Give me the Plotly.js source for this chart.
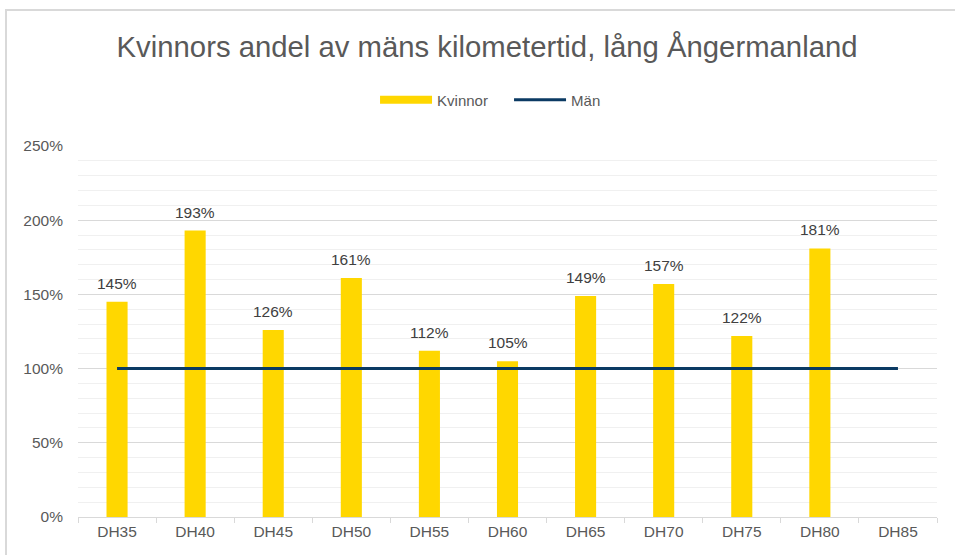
<!DOCTYPE html>
<html>
<head>
<meta charset="utf-8">
<script src="https://cdn.plot.ly/plotly-3.0.1.min.js"></script>
<style>
html,body{margin:0;padding:0;background:#fff;}
#wrap{position:relative;width:955px;height:555px;}
#chart{width:955px;height:555px;}
#frame{position:absolute;left:5px;top:9px;width:1000px;height:600px;border-left:2px solid #d9d9d9;border-top:2px solid #d9d9d9;pointer-events:none;}
</style>
</head>
<body>
<div id="wrap"><div id="chart"></div><div id="frame"></div></div>
<script>
const categories = ['DH35','DH40','DH45','DH50','DH55','DH60','DH65','DH70','DH75','DH80','DH85'];
const kvinnor = [1.45, 1.93, 1.26, 1.61, 1.12, 1.05, 1.49, 1.57, 1.22, 1.81, null];
const man = [1, 1, 1, 1, 1, 1, 1, 1, 1, 1, 1];
const kvinnorLabels = kvinnor.map(v => v == null ? '' : Math.round(v * 100) + '%');

const font = 'Liberation Sans, Arial, sans-serif';
const yellow = '#FFD700';
const navy = '#0b3a63';
const data = [
  {
    type: 'bar', name: 'Kvinnor', x: categories, y: kvinnor,
    marker: {color: yellow}, showlegend: false
  },
  {
    type: 'scatter', mode: 'lines', name: 'Kvinnor', x: categories, y: categories.map(() => null),
    line: {color: yellow, width: 8}, showlegend: true
  },
  {
    type: 'scatter', mode: 'lines', name: 'Män', x: categories, y: man,
    line: {color: navy, width: 3}
  }
];
const annotations = categories.map((c, i) => kvinnor[i] == null ? null : ({
  x: c, y: kvinnor[i], xref: 'x', yref: 'y', text: kvinnorLabels[i],
  showarrow: false, yanchor: 'bottom', yshift: 8,
  font: {family: font, size: 15.5, color: '#404040'}
})).filter(a => a);
const layout = {
  width: 955, height: 555,
  margin: {l: 78, r: 18, t: 146, b: 38},
  paper_bgcolor: '#ffffff', plot_bgcolor: '#ffffff',
  font: {family: font, color: '#595959', size: 15},
  title: {text: 'Kvinnors andel av mäns kilometertid, lång Ångermanland',
    font: {family: font, size: 29.3, color: '#595959'},
    x: 0.51, xanchor: 'center', yref: 'container', y: 1 - 47/555, yanchor: 'middle'},
  bargap: 0.73,
  showlegend: true,
  annotations: annotations,
  legend: {orientation: 'h', x: 0.3458, xanchor: 'left', y: 1.124, yanchor: 'middle',
    itemwidth: 52, entrywidth: 67, entrywidthmode: 'pixels',
    font: {family: font, size: 15, color: '#595959'}},
  xaxis: {
    type: 'category', showgrid: false, showline: true, linecolor: '#d9d9d9', linewidth: 1,
    ticks: 'outside', tickson: 'boundaries', ticklen: 5, tickcolor: '#d9d9d9',
    tickfont: {family: font, size: 15.5, color: '#595959'}, zeroline: false, fixedrange: true
  },
  yaxis: {
    range: [0, 2.5], dtick: 0.5, tickformat: '.0%',
    showgrid: true, gridcolor: '#d9d9d9', gridwidth: 1,
    minor: {dtick: 0.1, showgrid: true, gridcolor: '#f0f0f0', gridwidth: 1},
    zeroline: false, showline: false, ticks: '',
    tickfont: {family: font, size: 15.5, color: '#595959'}, ticklabelstandoff: 14, fixedrange: true
  }
};
Plotly.newPlot('chart', data, layout, {displayModeBar: false, staticPlot: true});
</script>
</body>
</html>
